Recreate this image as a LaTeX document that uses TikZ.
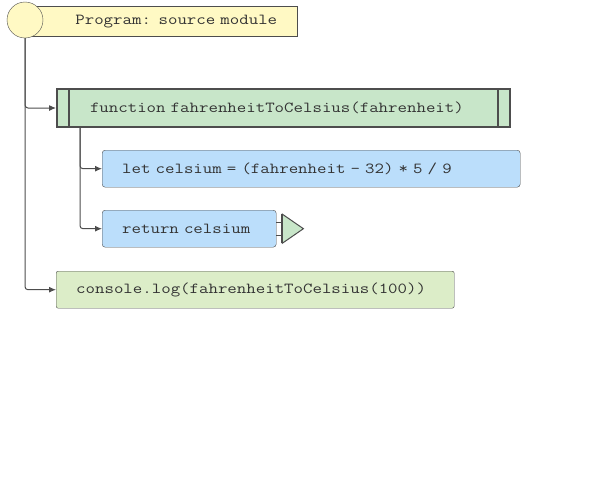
\documentclass[tikz,border=0pt]{standalone}
\usepackage{fontspec}
\newfontfamily\codefont[FakeStretch=1.2]{Latin Modern Mono}
\usepackage{tikz}
\usetikzlibrary{arrows.meta,positioning,calc}
\usepackage{xcolor}
\definecolor{fline}{HTML}{4D4D4D}
\definecolor{ftext}{HTML}{333333}
\definecolor{fyellow}{HTML}{FFF9C4}
\definecolor{fgreen}{HTML}{C8E6C9}
\definecolor{flime}{HTML}{DCEDC8}
\definecolor{fblue}{HTML}{BBDEFB}
\newcommand{\codetext}{\codefont\fontsize{15.3}{18}\selectfont\spaceskip 9.64pt\relax}
\tikzset{
  box/.style     = {draw=fline, rectangle, anchor=north west, inner xsep=20pt,
                    inner ysep=0pt, minimum height=37pt, align=left, text=ftext,
                    font=\codetext},
  stmt/.style    = {box, rounded corners=3pt, fill=fblue},
  procbox/.style = {box, line width=2pt, fill=fgreen, inner xsep=33pt,
                    minimum height=38pt},
  startnode/.style = {draw=fline, circle, fill=fyellow, minimum size=36pt,
                    inner sep=0pt},
  flow/.style    = {-{Latex[length=7pt,width=6pt]}, draw=fline, line width=1pt,
                    rounded corners=3pt},
}
\begin{document}
\begin{tikzpicture}[x=1pt,y=-1pt]
\useasboundingbox (0,0) rectangle (607,477);
% program header
\node[box, fill=fyellow, minimum width=272pt, minimum height=30pt,
      text width=232pt, align=right] (prog) at (25,6) {Program: source module};
\node[startnode] (start) at (25,20) {};
% function block
\node[procbox, minimum width=453pt, text width=387pt] (fn) at (56,88)
  {function fahrenheitToCelsius(fahrenheit)};
\draw[fline, line width=1.5pt] ([xshift=13pt]fn.north west) -- ([xshift=13pt]fn.south west)
  ([xshift=-13pt]fn.north east) -- ([xshift=-13pt]fn.south east);
\node[stmt, minimum width=418pt, text width=378pt] (let) at (102,150)
  {let celsium = (fahrenheit - 32) * 5 / 9};
\node[stmt, minimum width=174pt, text width=134pt] (ret) at (102,210) {return celsium};
\node[box, rounded corners=2pt, fill=flime, minimum width=398pt, text width=358pt]
  (cons) at (56,271) {console.log(fahrenheitToCelsius(100))};
% return marker
\coordinate (retout) at ([xshift=6pt]ret.east);
\draw[fline, line width=1pt] ([yshift=-6.5pt]ret.east) -- ([yshift=-6.5pt]retout)
  ([yshift=6.5pt]ret.east) -- ([yshift=6.5pt]retout);
\draw[fline, line width=1pt, fill=fgreen] ([yshift=-14.5pt]retout)
  -- ([xshift=21pt]retout) -- ([yshift=14.5pt]retout) -- cycle;
\draw[fline, line width=2pt] ([yshift=-14.5pt]retout) -- ([yshift=14.5pt]retout);
% connectors
\draw[flow] (start.south) |- (fn.west);
\draw[flow] (start.south) |- (cons.west);
\coordinate (fnstem) at ([xshift=24pt]fn.south west);
\draw[flow] (fnstem) |- (let.west);
\draw[flow] (fnstem) |- (ret.west);
\end{tikzpicture}
\end{document}
